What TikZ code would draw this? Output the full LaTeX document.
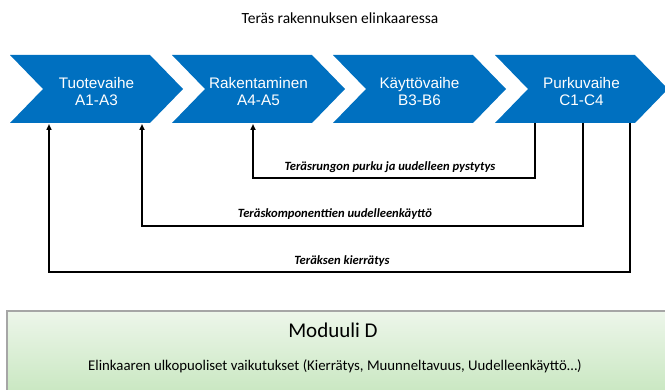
\documentclass[tikz,border=0pt]{standalone}
\usepackage{fontspec}
\setmainfont{Liberation Sans}
\newfontfamily\calib{Carlito}
\usetikzlibrary{arrows.meta}
\definecolor{chev}{RGB}{0,112,192}
\definecolor{gtop}{RGB}{237,246,234}
\definecolor{gbot}{RGB}{198,230,190}
\definecolor{gborder}{RGB}{166,166,166}
\begin{document}
\begin{tikzpicture}[x=1pt,y=-1pt,
  chevtext/.style={text=white,align=center,font=\fontsize{15.3}{17}\selectfont,inner sep=0pt},
  link/.style={line width=1.7pt,line join=miter},
  uparrow/.style={-{Triangle[width=5pt,length=6pt]}},
  linklabel/.style={font=\calib\bfseries\itshape\fontsize{12.6}{14}\selectfont,inner sep=0pt},
  titletext/.style={font=\calib\fontsize{15.5}{18}\selectfont,inner sep=0pt}]
\useasboundingbox (0,0) rectangle (665,390);
% title
\node[titletext] (title) at (340,18) {Teräs rakennuksen elinkaaressa};
% chevrons
\foreach \L/\n/\a/\b in {10/c1/Tuotevaihe/A1-A3,172/c2/Rakentaminen/A4-A5,333/c3/Käyttövaihe/B3-B6,495/c4/Purkuvaihe/C1-C4}{
  \fill[chev] (\L,55) -- ++(140,0) -- ++(33,34) -- ++(-33,34) -- ++(-140,0) -- ++(33,-34) -- cycle;
  \node[chevtext] (\n) at (\L+86.5,91.5) {\a\\\b};
}
% connector end points
\coordinate (u1) at (253,124);
\coordinate (u2) at (142,124);
\coordinate (u3) at (49,124);
\coordinate (d1) at (535,123);
\coordinate (d2) at (583,123);
\coordinate (d3) at (630,123);
\coordinate (h1) at (0,178);
\coordinate (h2) at (0,226);
\coordinate (h3) at (0,272);
\draw[link,uparrow] (d1) -- (d1 |- h1) -- (u1 |- h1) -- (u1);
\draw[link,uparrow] (d2) -- (d2 |- h2) -- (u2 |- h2) -- (u2);
\draw[link,uparrow] (d3) -- (d3 |- h3) -- (u3 |- h3) -- (u3);
\node[linklabel] (l1) at (390,167) {Teräsrungon purku ja uudelleen pystytys};
\node[linklabel] (l2) at (335,214) {Teräskomponenttien uudelleenkäyttö};
\node[linklabel] (l3) at (342,261) {Teräksen kierrätys};
% module D
\shadedraw[top color=gtop,bottom color=gbot,draw=gborder,line width=1.5pt] (7,311) rectangle (675,400);
\node[font=\calib\fontsize{21}{24}\selectfont,inner sep=0pt] (md) at (333,330) {Moduuli D};
\node[font=\calib\fontsize{14.8}{17}\selectfont,inner sep=0pt] (mdt) at (335,366) {Elinkaaren ulkopuoliset vaikutukset (Kierrätys, Muunneltavuus, Uudelleenkäyttö…)};
\end{tikzpicture}
\end{document}
